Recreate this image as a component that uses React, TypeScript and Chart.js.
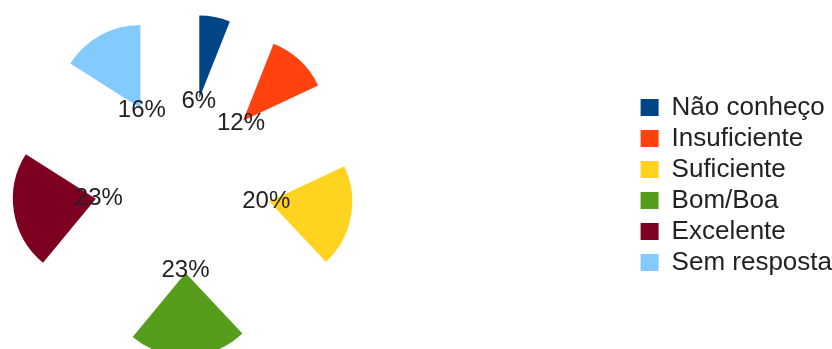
import React, { useEffect, useRef } from "react";
import { Chart, registerables } from "chart.js";

Chart.register(...registerables);

const categories = ["Não conheço", "Insuficiente", "Suficiente", "Bom/Boa", "Excelente", "Sem resposta"];
const values = [6, 12, 20, 23, 23, 16];
const colors = ["#004586", "#ff420e", "#ffd320", "#579d1c", "#7e0021", "#83caff"];

const EXPLODE = 88;
const LABEL_DIST = 85;
const FONT = "'Liberation Sans', Arial, sans-serif";
const LEFT_BLEED = 270;

const explodePlugin = {
  id: "explodeSlices",
  afterDatasetUpdate(chart: any, args: any) {
    const area = chart.chartArea;
    const cx = (area.left + area.right) / 2;
    const cy = (area.top + area.bottom) / 2;
    args.meta.data.forEach((arc: any) => {
      const mid = (arc.startAngle + arc.endAngle) / 2;
      arc.x = cx + Math.cos(mid) * EXPLODE;
      arc.y = cy + Math.sin(mid) * EXPLODE;
    });
  },
};

const labelPlugin = {
  id: "pctLabels",
  afterDatasetsDraw(chart: any) {
    const ctx = chart.ctx;
    const area = chart.chartArea;
    const cx = (area.left + area.right) / 2;
    const cy = (area.top + area.bottom) / 2;
    const data = chart.data.datasets[0].data as number[];
    const total = data.reduce((a, b) => a + b, 0);
    const meta = chart.getDatasetMeta(0);
    ctx.save();
    ctx.font = `24px ${FONT}`;
    ctx.fillStyle = "#222222";
    ctx.textAlign = "center";
    ctx.textBaseline = "middle";
    meta.data.forEach((arc: any, i: number) => {
      const mid = (arc.startAngle + arc.endAngle) / 2;
      const x = cx + Math.cos(mid) * LABEL_DIST;
      const y = cy + Math.sin(mid) * LABEL_DIST;
      ctx.fillText(`${Math.round((data[i] / total) * 100)}%`, x, y);
    });
    ctx.restore();
  },
};

export default function App() {
  const ref = useRef<HTMLCanvasElement>(null);
  useEffect(() => {
    if (!ref.current) return;
    const chart = new Chart(ref.current, {
      type: "pie",
      data: {
        labels: categories,
        datasets: [
          {
            data: values,
            backgroundColor: colors,
            borderWidth: 0,
          },
        ],
      },
      options: {
        animation: false,
        responsive: true,
        maintainAspectRatio: false,
        events: [],
        radius: 83,
        layout: { padding: { left: 0, right: -10, top: 21, bottom: 0 } },
        plugins: {
          tooltip: { enabled: false },
          legend: {
            position: "right",
            align: "center",
            labels: {
              boxWidth: 18,
              boxHeight: 17,
              padding: 5,
              color: "#222222",
              font: { family: FONT, size: 26 },
            },
          },
        },
      } as any,
      plugins: [explodePlugin, labelPlugin],
    });
    return () => chart.destroy();
  }, []);
  return (
    <div style={{ position: "fixed", left: 0, top: 0, width: 832, height: 349, overflow: "hidden", background: "#ffffff" }}>
      <div style={{ position: "absolute", left: -LEFT_BLEED, top: 0, width: 832 + LEFT_BLEED, height: 349 }}>
        <canvas ref={ref} />
      </div>
    </div>
  );
}
